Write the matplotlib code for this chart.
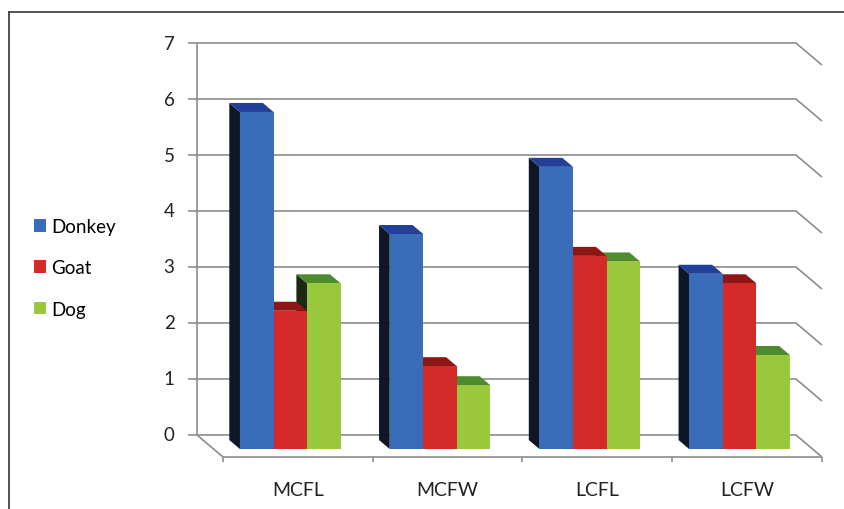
import matplotlib.pyplot as plt
from matplotlib.patches import Polygon, Patch
from matplotlib.lines import Line2D

categories = ["MCFL", "MCFW", "LCFL", "LCFW"]
series = ["Donkey", "Goat", "Dog"]
donkey = [6.02, 3.84, 5.04, 3.13]
goat = [2.47, 1.48, 3.45, 2.96]
dog = [2.96, 1.14, 3.35, 1.68]
y_ticks = [0, 1, 2, 3, 4, 5, 6, 7]

values = [donkey, goat, dog]
front_col = ["#3A6DB9", "#D42A2A", "#9AC83C"]
top_col = ["#22409A", "#8E1616", "#4E8A2E"]
side_col = ["#0F1726", "#2A0A0A", "#1C2912"]

plt.rcParams["font.family"] = ["Lato", "DejaVu Sans"]

fig = plt.figure(figsize=(8.45, 5.10), dpi=100)
ax = fig.add_axes([0, 0, 1, 1])
ax.set_xlim(-1.489, 4.154)
ax.set_ylim(-0.929, 8.179)
ax.axis("off")

# oblique depth of the floor (category units, value units)
DX, DY = 0.1736, 0.393
n = len(categories)
grid_kw = dict(color="#8C8C8C", lw=1.2, solid_capstyle="butt", zorder=1)

def off(d):
    return -d * DX, d * DY

# back wall, right wall and floor lines
bx, by = off(1.0)
for k in y_ticks:
    ax.plot([bx, n + bx, n], [k + by, k + by, k], **grid_kw)
    ax.plot([bx - 0.06, bx], [k + by, k + by], **grid_kw)
    ax.text(bx - 0.15, k + by, str(k), ha="right", va="center",
            fontsize=13.5, color="#222222")
ax.plot([bx, bx], [by, y_ticks[-1] + by], **grid_kw)
ax.plot([bx, 0, n], [by, 0, 0], **grid_kw)
for i in range(n + 1):
    ax.plot([i, i], [0, -0.09], **grid_kw)
for i, c in enumerate(categories):
    ax.text(i + 0.5, -0.58, c, ha="center", va="center",
            fontsize=14, color="#222222")

# 3D style bars
w = 0.224
d0, d1 = 0.36, 0.77
fx, fy = off(d0)
rx, ry = off(d1)
for i in range(n):
    left0 = i + 0.5 - 1.5 * w + 0.012
    for j in reversed(range(len(series))):
        v = values[j][i]
        xl = left0 + j * w
        xr = xl + w
        side = [(xl + fx, fy), (xl + fx, v + fy), (xl + rx, v + ry), (xl + rx, ry)]
        top = [(xl + fx, v + fy), (xr + fx, v + fy), (xr + rx, v + ry), (xl + rx, v + ry)]
        front = [(xl + fx, fy), (xr + fx, fy), (xr + fx, v + fy), (xl + fx, v + fy)]
        ax.add_patch(Polygon(side, closed=True, fc=side_col[j], ec="none", zorder=3))
        ax.add_patch(Polygon(top, closed=True, fc=top_col[j], ec="none", zorder=3))
        ax.add_patch(Polygon(front, closed=True, fc=front_col[j], ec="none", zorder=3))

handles = [Patch(fc=front_col[j], ec="none") for j in range(len(series))]
fig.legend(handles, series, loc="center left", bbox_to_anchor=(0.02, 0.473),
           frameon=False, fontsize=13.5, handlelength=0.65, handleheight=0.65,
           handletextpad=0.3, labelspacing=1.3)

# outer frame
fig.add_artist(Line2D([0.0101, 1.0], [0.975, 0.975], color="#444444", lw=1.3))
fig.add_artist(Line2D([0.0101, 0.0101], [0.0, 0.975], color="#444444", lw=1.3))

fig.savefig("out.png", dpi=100)
